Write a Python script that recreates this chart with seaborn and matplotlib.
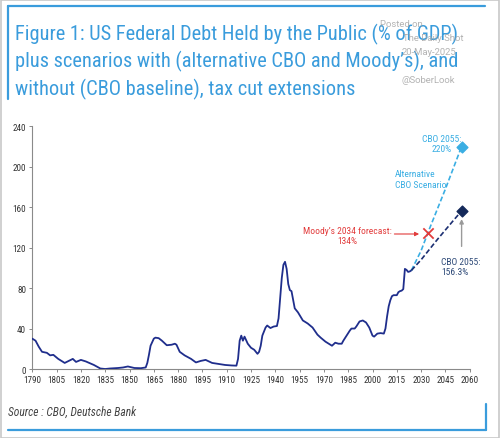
import matplotlib
matplotlib.use("Agg")
import matplotlib.pyplot as plt
import matplotlib.patches as mpatches
from matplotlib.lines import Line2D
import seaborn as sns
import pandas as pd

# ---------------- data ----------------
hist_years = [1790, 1792, 1794, 1796, 1799, 1801, 1803, 1806, 1810, 1815, 1817, 1820, 1823,
              1828, 1832, 1835, 1838, 1843, 1846, 1849, 1853, 1857, 1860, 1861, 1862, 1863,
              1865, 1866, 1868, 1870, 1873, 1876, 1878, 1879, 1881, 1884, 1888, 1891, 1894,
              1897, 1899, 1901, 1905, 1909, 1913, 1916, 1917, 1918, 1919, 1920, 1921, 1923,
              1925, 1927, 1929, 1930, 1931, 1932, 1934, 1935, 1937, 1939, 1941, 1942, 1943,
              1944, 1945, 1946, 1947, 1948, 1949, 1950, 1952, 1954, 1957, 1960, 1963, 1966,
              1968, 1971, 1973, 1975, 1977, 1979, 1981, 1982, 1984, 1986, 1987, 1989, 1990,
              1992, 1994, 1996, 1998, 2000, 2001, 2003, 2005, 2007, 2008, 2009, 2010, 2011,
              2012, 2013, 2015, 2016, 2017, 2018, 2019, 2020, 2021, 2022, 2023, 2024]
hist_values = [30, 28, 22, 17, 16, 13.5, 14, 10, 6, 10, 7, 9, 7.5,
               4, 0.5, 0, 0.5, 1, 1.5, 2.5, 1, 0.8, 1.5, 6, 14, 23,
               30, 31, 30.5, 28, 23.5, 24, 25, 24, 17, 13.5, 10, 6.5, 8,
               9, 7.5, 6, 5, 4, 3.5, 3.3, 10, 28, 33, 28, 32, 25,
               21, 19, 15, 17, 23, 33, 41, 43, 40.5, 42, 42.5, 50, 70,
               90, 103, 106, 99, 84, 78, 77, 60, 56, 48, 45, 41, 34,
               31, 27, 25, 23, 26, 25, 25, 28, 33, 38, 40, 40, 42,
               47, 48, 46, 41, 33, 32, 35, 35.5, 35, 40, 52, 62, 68,
               72, 73, 73, 76, 77, 77.5, 79, 99, 98, 96, 96.5, 97.5]

proj_years = [2024, 2030, 2035, 2040, 2045, 2050, 2055]
alt_cbo_values = [97.5, 117, 138, 158, 178, 199, 220]
cbo_base_values = [97.5, 108, 118, 128, 137.5, 147, 156.3]

moodys_year, moodys_value = 2034, 134

x_ticks = list(range(1790, 2061, 15))
y_ticks = list(range(0, 241, 40))

title_lines = ["Figure 1: US Federal Debt Held by the Public (% of GDP)",
               "plus scenarios with (alternative CBO and Moody\u2019s), and",
               "without (CBO baseline), tax cut extensions"]
watermark = ["Posted on", "The Daily Shot", "20-May-2025", "@SoberLook"]
source_text = "Source : CBO, Deutsche Bank"

# ---------------- style ----------------
sns.set_style("white")
FONT = ["Roboto Condensed", "Roboto", "DejaVu Sans"]
plt.rcParams["font.family"] = FONT

BLUE_T = "#3a9cdc"
NAVY = "#1f2e8c"
DARKP = "#1c2f72"
LIGHT = "#3aaee3"
RED = "#e23c3c"

W, H = 500, 439
fig = plt.figure(figsize=(W / 100, H / 100), dpi=100)
ax = fig.add_axes([32.3 / W, 1 - 370 / H, (469.7 - 32.3) / W, (370 - 127.3) / H])

hist = pd.DataFrame({"year": hist_years, "value": hist_values})
proj = pd.DataFrame({"year": proj_years, "alt": alt_cbo_values, "base": cbo_base_values})

sns.lineplot(data=hist, x="year", y="value", ax=ax, color=NAVY, lw=1.3, zorder=3)
sns.lineplot(data=proj, x="year", y="alt", ax=ax, color=LIGHT, lw=1.2, ls=(0, (3, 1.5)), zorder=3)
sns.lineplot(data=proj, x="year", y="base", ax=ax, color=DARKP, lw=1.2, ls=(0, (3, 1.5)), zorder=3)

ax.scatter([proj_years[-1]], [alt_cbo_values[-1]], marker="D", s=30, color=LIGHT, zorder=4)
ax.scatter([proj_years[-1]], [cbo_base_values[-1]], marker="D", s=30, color="#14295a", zorder=4)
ax.scatter([moodys_year], [moodys_value], marker="x", s=55, color=RED, linewidths=1.3, zorder=5)

ax.set_xlim(1790, 2060)
ax.set_ylim(0, 240)
ax.set_xticks(x_ticks)
ax.set_yticks(y_ticks)
ax.set_xlabel("")
ax.set_ylabel("")
for s in ["top", "right"]:
    ax.spines[s].set_visible(False)
for s in ["left", "bottom"]:
    ax.spines[s].set_color("#8a8a8a")
    ax.spines[s].set_linewidth(0.8)
ax.tick_params(axis="both", labelsize=6.6, colors="#8a8a8a", labelcolor="#333333",
               length=2.5, width=0.7, pad=2, direction="out")
ax.tick_params(axis="x", bottom=True)
ax.tick_params(axis="y", left=True)

# annotations
ax.text(2042.8, 223, "CBO 2055:\n220%", color=LIGHT, fontsize=6.8, ha="center", va="center",
        linespacing=1.2)
ax.text(2014, 188, "Alternative\nCBO Scenario", color=LIGHT, fontsize=6.8, ha="left", va="center",
        linespacing=1.2)
ax.text(1984.6, 132.3, "Moody\u2019s 2034 forecast:\n134%", color=RED, fontsize=6.8, ha="center",
        va="center", linespacing=1.2)
ax.annotate("", xy=(2030.5, 133.5), xytext=(2011.8, 133.5),
            arrowprops=dict(arrowstyle="-|>", color=RED, lw=0.8, mutation_scale=6))
ax.text(2042.3, 101.5, "CBO 2055:\n156.3%", color="#2e4a78", fontsize=6.8, ha="left", va="center",
        linespacing=1.2)
ax.annotate("", xy=(2055, 151), xytext=(2055, 118.5),
            arrowprops=dict(arrowstyle="-|>", color="#9a9a9a", lw=1.0, mutation_scale=6))

# title
for i, line in enumerate(title_lines):
    fig.text(15 / W, 1 - (40 + 27.5 * i) / H, line, color=BLUE_T, fontsize=14.7,
             ha="left", va="baseline")

# watermark
wm_pos = [(380, 27), (403, 41), (402, 55), (402, 83)]
for (px, py), t in zip(wm_pos, watermark):
    fig.text(px / W, 1 - py / H, t, color="#a0a0a0", fontsize=6.8, alpha=0.8,
             ha="left", va="baseline", family=["Roboto", "DejaVu Sans"])

# source
fig.text(8 / W, 1 - 416 / H, source_text, color="#444444", fontsize=8.3, style="italic",
         ha="left", va="baseline")

# frame lines
def fline(xs, ys, **kw):
    fig.add_artist(Line2D([x / W for x in xs], [1 - y / H for y in ys], transform=fig.transFigure, **kw))

fline([8, 485], [7, 7], color=BLUE_T, lw=1.6)
fline([8, 8], [7, 100], color=BLUE_T, lw=1.6)
fline([8, 486], [431, 431], color=BLUE_T, lw=1.6)
fline([486, 486], [405, 431], color=BLUE_T, lw=1.6)
fig.add_artist(mpatches.Rectangle((0.001, 0.001), 0.997, 0.997, transform=fig.transFigure,
                                  fill=False, edgecolor="#c8c8c8", lw=1.2))

fig.savefig("out.png", dpi=100)
